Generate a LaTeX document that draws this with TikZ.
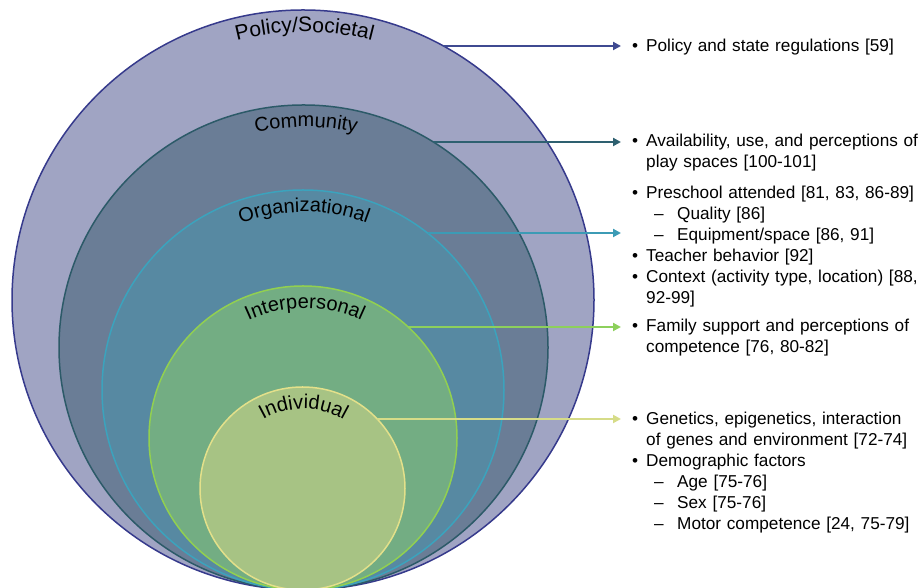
\documentclass[tikz,border=0pt]{standalone}
\usepackage{fontspec}
\setmainfont{Liberation Sans}
\usetikzlibrary{shapes.geometric,arrows.meta,decorations.text}
\setlength{\parskip}{0pt}
\setlength{\parindent}{0pt}

\definecolor{polfill}{HTML}{A0A4C3}
\definecolor{polline}{HTML}{363A8C}
\definecolor{comfill}{HTML}{6A7D96}
\definecolor{comline}{HTML}{2C5A68}
\definecolor{orgfill}{HTML}{5789A2}
\definecolor{orgline}{HTML}{3BA3BD}
\definecolor{intfill}{HTML}{73AD83}
\definecolor{intline}{HTML}{92D050}
\definecolor{indfill}{HTML}{A7C384}
\definecolor{indline}{HTML}{E3E08A}
\definecolor{polarrow}{HTML}{3F4A91}
\definecolor{comarrow}{HTML}{2E6070}
\definecolor{orgarrow}{HTML}{3C9BB5}
\definecolor{intarrow}{HTML}{8DD05C}
\definecolor{indarrow}{HTML}{D6DC88}

% list helpers: bullet item and dash sub-item, each a paragraph of its own
\newcommand\bitem[1]{\noindent\hangindent=14pt\relax\hangafter=1\relax\makebox[14pt][l]{•}#1\par}
\newcommand\ditem[1]{\noindent\hangindent=45pt\relax\hangafter=1\relax\hspace*{22pt}\makebox[23pt][l]{–}#1\par}
\newcommand\lblfont{\fontsize{20}{24}\selectfont}
\newcommand\biglblfont{\fontsize{21}{25}\selectfont}
\newcommand\listfont{\fontsize{17.2}{21}\selectfont}

\tikzset{
  layer/.style={ellipse, inner sep=0pt, outer sep=0pt, line width=1.5pt},
  link/.style={line width=2pt, -{Triangle[length=8pt,width=8pt]}},
  listtext/.style={anchor=base west, inner sep=0pt, text width=300pt, align=left, font=\listfont},
  arclabel/.style={decorate, decoration={text along path, text align=center, text={#1}}},
}

\begin{document}
\begin{tikzpicture}[x=1pt,y=1pt]
\useasboundingbox (0,0) rectangle (921,588);

% nested levels, all resting on the lower edge
\begin{scope}
\clip (0,0) rectangle (921,588);
\node[layer, draw=polline, fill=polfill, minimum width=582pt, minimum height=580pt] (policy) at (303,288) {};
\node[layer, draw=comline, fill=comfill, minimum width=489pt, minimum height=485pt] (community) at (303.5,240.5) {};
\node[layer, draw=orgline, fill=orgfill, minimum width=402pt, minimum height=400pt] (organizational) at (303,198) {};
\node[layer, draw=intline, fill=intfill, minimum width=308pt, minimum height=304pt] (interpersonal) at (303,150) {};
\node[layer, draw=indline, fill=indfill, minimum width=205pt, minimum height=203pt] (individual) at (302.5,99.5) {};
\end{scope}

% curved level names
\path[arclabel={|\biglblfont|Policy/Societal}] (304.5,288) ++(125:269 and 268) arc[start angle=125, end angle=55, x radius=269, y radius=268];
\path[arclabel={|\lblfont|Community}] (306,240.5) ++(130:222.5 and 220.5) arc[start angle=130, end angle=50, x radius=222.5, y radius=220.5];
\path[arclabel={|\lblfont|Organizational}] (304,198) ++(140:179 and 178) arc[start angle=140, end angle=40, x radius=179, y radius=178];
\path[arclabel={|\lblfont|Interpersonal}] (305,150) ++(145:132 and 130) arc[start angle=145, end angle=35, x radius=132, y radius=130];
\path[arclabel={|\lblfont|Individual}] (303.5,99.5) ++(155:80.5 and 79.5) arc[start angle=155, end angle=25, x radius=80.5, y radius=79.5];

% connector ends
\coordinate (polS) at (443,542);   \coordinate (polE) at (621,542);
\coordinate (comS) at (433,446);   \coordinate (comE) at (621,446);
\coordinate (orgS) at (427.5,355); \coordinate (orgE) at (621,355);
\coordinate (intS) at (408,261);   \coordinate (intE) at (621,261);
\coordinate (indS) at (377,169);   \coordinate (indE) at (621,169);

\draw[link, polarrow] (polS) -- (polE);
\draw[link, comarrow] (comS) -- (comE);
\draw[link, orgarrow] (orgS) -- (orgE);
\draw[link, intarrow] (intS) -- (intE);
\draw[link, indarrow] (indS) -- (indE);

% factor lists
\node[listtext] (polText) at (632,536) {\bitem{Policy and state regulations [59]}};
\node[listtext] (comText) at (632,441) {\bitem{Availability, use, and perceptions of\newline play spaces [100-101]}};
\node[listtext] (orgText) at (632,389) {\bitem{Preschool attended [81, 83, 86-89]}\ditem{Quality [86]}\ditem{Equipment/space [86, 91]}\bitem{Teacher behavior [92]}\bitem{Context (activity type, location) [88,\newline 92-99]}};
\node[listtext] (intText) at (632,256) {\bitem{Family support and perceptions of\newline competence [76, 80-82]}};
\node[listtext] (indText) at (632,163) {\bitem{Genetics, epigenetics, interaction\newline of genes and environment [72-74]}\bitem{Demographic factors}\ditem{Age [75-76]}\ditem{Sex [75-76]}\ditem{Motor competence [24, 75-79]}};
\end{tikzpicture}
\end{document}
